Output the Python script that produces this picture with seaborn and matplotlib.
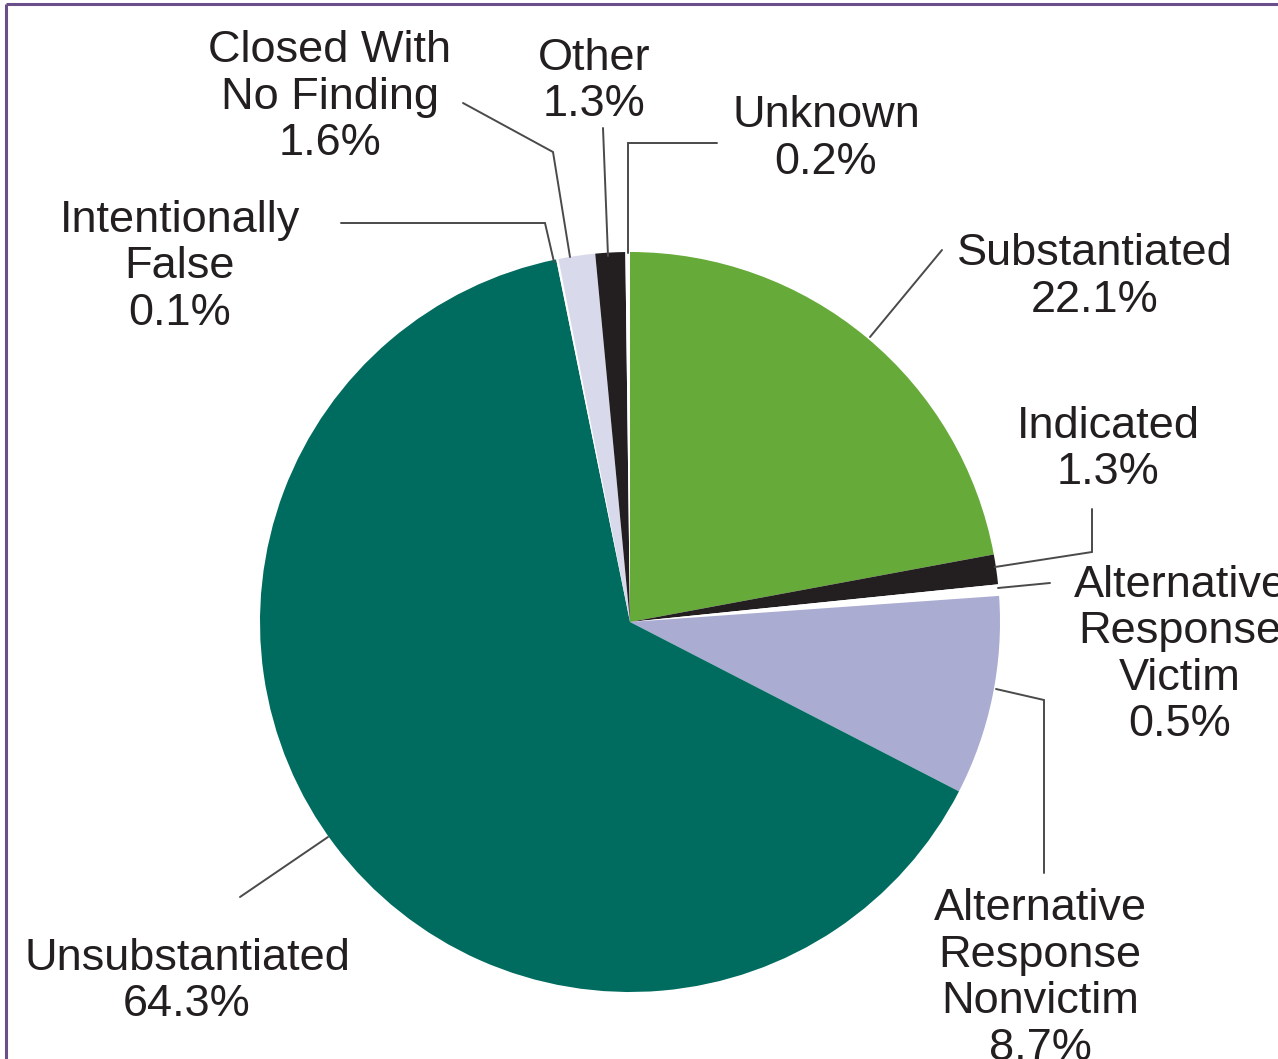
import matplotlib
matplotlib.use('Agg')
import matplotlib.pyplot as plt
import seaborn as sns

# canvas size in pixels (dpi 100)
W, H = 1278, 1059

# pie data, clockwise from 12 o'clock
categories = ['Substantiated', 'Indicated', 'Alternative Response Victim',
              'Alternative Response Nonvictim', 'Unsubstantiated', 'Intentionally False',
              'Closed With No Finding', 'Other', 'Unknown']
shares = [22.1, 1.3, 0.5, 8.7, 64.3, 0.1, 1.6, 1.3, 0.2]
label_lines = [['Substantiated'], ['Indicated'], ['Alternative', 'Response', 'Victim'],
               ['Alternative', 'Response', 'Nonvictim'], ['Unsubstantiated'],
               ['Intentionally', 'False'], ['Closed With', 'No Finding'], ['Other'], ['Unknown']]
colours = ['#66AA39', '#231F20', '#FFFFFF', '#AAACD2', '#006B5F',
           '#FFFFFF', '#D9D9EC', '#231F20', '#FFFFFF']

# label anchor: centre x, first baseline y (pixels from top-left)
label_pos = [(1095, 265), (1108, 438), (1180, 597), (1040, 920), (187, 970),
             (180, 232), (330, 62), (594, 70), (826, 127)]
line_step = 46.5

# leader lines (pixel coordinates, top-left origin)
leaders = [
    [(942, 250), (870, 337)],
    [(1092, 509), (1092, 552), (995, 567)],
    [(1050, 583), (998, 588)],
    [(996, 689), (1044, 700), (1044, 873)],
    [(240, 897), (328, 837)],
    [(341, 223), (545, 223), (554, 262)],
    [(463, 103), (553, 152), (570, 257)],
    [(603, 128), (608, 256)],
    [(717, 143), (628, 143), (628, 253)],
]


def fy(y):
    # convert from image rows to data y
    return H - y


sns.set_theme(style='white')
plt.rcParams['font.family'] = ['Liberation Sans', 'DejaVu Sans']

fig = plt.figure(figsize=(W / 100, H / 100), dpi=100)
ax = fig.add_axes([0, 0, 1, 1])

pal = sns.color_palette(colours)
ax.pie(shares, colors=pal, startangle=90, counterclock=False,
       center=(630, fy(622)), radius=370, wedgeprops=dict(linewidth=0))
ax.set_xlim(0, W)
ax.set_ylim(0, H)
ax.set_axis_off()

# leader lines
for pts in leaders:
    xs = [p[0] for p in pts]
    ys = [fy(p[1]) for p in pts]
    ax.plot(xs, ys, color='#4a4a4a', lw=1.4, solid_joinstyle='miter', zorder=3)

# labels, one text per line so the baselines sit where they should
for lines, share, (cx, by) in zip(label_lines, shares, label_pos):
    for i, txt in enumerate(lines + [f'{share:.1f}%']):
        ax.text(cx, fy(by + i * line_step), txt, ha='center', va='baseline',
                fontsize=32.5, color='#231F20', zorder=4)

# purple frame (only left and top edges survive the crop)
ax.plot([5.5, 5.5], [0, fy(3.5)], color='#6B4F8B', lw=2.2, solid_capstyle='butt')
ax.plot([5.5, W], [fy(3.5), fy(3.5)], color='#6B4F8B', lw=2.2, solid_capstyle='butt')

fig.savefig('out.png', dpi=100)
